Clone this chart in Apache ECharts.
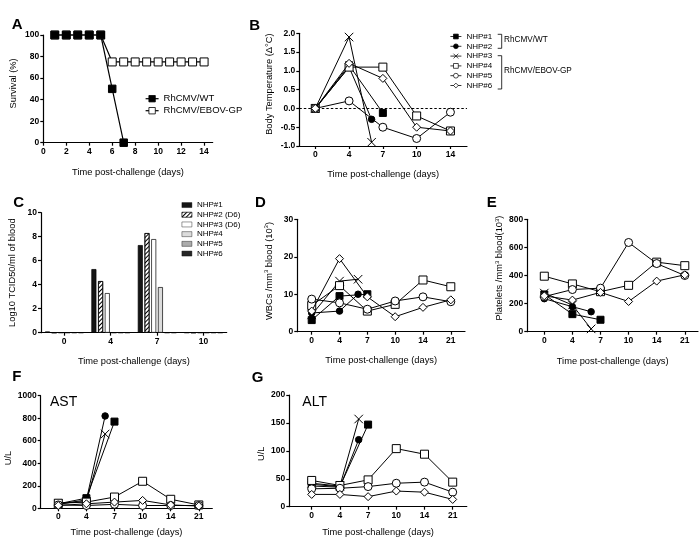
<!DOCTYPE html>
<html><head><meta charset="utf-8">
<script src="https://cdn.jsdelivr.net/npm/echarts@6/dist/echarts.min.js"></script>
<style>html,body{margin:0;padding:0;background:#fff}#c{width:700px;height:542px}</style>
</head><body><div id="c"></div>
<script>
// ---------------- DATA ----------------
// Panel A: survival
const survivalDays = [1,2,3,4,5,6,7,8,9,10,11,12,13,14];
const survivalTicks = [0,2,4,6,8,10,12,14];
const survivalWT = [100,100,100,100,100,50,0];
const survivalGP = [100,100,100,100,100,75,75,75,75,75,75,75,75,75];

// Shared NHP info
const nhpNames = ['NHP#1','NHP#2','NHP#3','NHP#4','NHP#5','NHP#6'];
const dayTicks = [0,4,7,10,14,21];
const tempTicks = [0,4,7,10,14];
const daysNHP1 = [0,4,7];
const daysNHP2 = [0,4,6];
const daysNHP3 = [0,4,6];
const daysSurvivor = [0,4,7,10,14,21];
const daysSurvivorTemp = [0,4,7,10,14];

// Panel B: body temperature change
const tempNHP1 = [0,1.15,-0.12];
const tempNHP2 = [0,1.1,-0.29];
const tempNHP3 = [0,1.9,-0.9];
const tempNHP4 = [0,1.1,1.1,-0.2,-0.6];
const tempNHP5 = [0,0.2,-0.5,-0.8,-0.1];
const tempNHP6 = [0,1.2,0.8,-0.5,-0.6];

// Panel C: viremia
const viremiaDays = ['0','4','7','10'];
const viremiaNames = ['NHP#1','NHP#2 (D6)','NHP#3 (D6)','NHP#4','NHP#5','NHP#6'];
const virNHP1 = [0.1,5.3,7.3,0];
const virNHP2 = [0,4.3,8.3,0];
const virNHP3 = [0,3.3,7.8,0];
const virNHP4 = [0,0,3.8,0];
const virNHP5 = [0,0,0,0];
const virNHP6 = [0,0,0,0];

// Panel D: WBCs
const wbcNHP1 = [3.1,9.5,10];
const wbcNHP2 = [5.0,5.5,10];
const wbcNHP3 = [4.5,13.5,14];
const wbcNHP4 = [7,12.3,5.5,7.3,13.8,12];
const wbcNHP5 = [8.7,7.7,6.0,8.2,9.3,8.0];
const wbcNHP6 = [5.5,19.5,9.3,4.0,6.5,8.5];

// Panel E: platelets
const pltNHP1 = [265,125,85];
const pltNHP2 = [235,178,142];
const pltNHP3 = [275,190,20];
const pltNHP4 = [395,340,285,330,495,470];
const pltNHP5 = [250,300,310,635,485,400];
const pltNHP6 = [255,225,280,215,360,405];

// Panel F: AST
const astNHP1 = [40,90,770];
const astNHP2 = [35,75,820];
const astNHP3 = [45,60,660];
const astNHP4 = [45,55,100,240,80,30];
const astNHP5 = [30,25,35,25,25,25];
const astNHP6 = [25,40,55,70,30,20];

// Panel G: ALT
const altNHP1 = [40,36,147];
const altNHP2 = [37,35,120];
const altNHP3 = [42,37,157];
const altNHP4 = [47,38,48,104,94,44];
const altNHP5 = [32,33,36,42,44,26];
const altNHP6 = [22,22,18,28,26,13];

// ---------------- RENDER ----------------
const FONT = '"Liberation Sans", Arial, Helvetica, sans-serif';

function dayToPos(d){
  for (let i = 0; i < dayTicks.length - 1; i++){
    if (d <= dayTicks[i+1]) return i + (d - dayTicks[i]) / (dayTicks[i+1] - dayTicks[i]);
  }
  return dayTicks.length - 1;
}

function merge(a, b){
  const out = Array.isArray(a) ? a.slice() : Object.assign({}, a);
  for (const k in b){
    if (b[k] && typeof b[k] === 'object' && !Array.isArray(b[k]) && a[k] && typeof a[k] === 'object' && !Array.isArray(a[k])) out[k] = merge(a[k], b[k]);
    else out[k] = b[k];
  }
  return out;
}

const axisBase = {
  axisLine:{show:true, onZero:false, lineStyle:{color:'#000', width:1.2}},
  axisTick:{show:true, length:3, lineStyle:{color:'#000', width:1.2}},
  splitLine:{show:false},
  axisLabel:{color:'#000', fontFamily:FONT, fontWeight:'bold', fontSize:8.5, margin:4},
  nameLocation:'middle',
  nameTextStyle:{color:'#000', fontFamily:FONT, fontSize:9.3, lineHeight:11,
    rich:{sup:{fontSize:6, lineHeight:6, verticalAlign:'top', fontFamily:FONT, color:'#000'}}}
};

const grids = [
  {left:43.3, top:35, width:169.4, height:107.7},   // A
  {left:299.3, top:33.3, width:167.7, height:112.7},// B
  {left:41, top:212.7, width:185.7, height:120},    // C
  {left:297.3, top:219.3, width:167.7, height:112.4},// D
  {left:527.3, top:219.3, width:170.7, height:112.4},// E
  {left:40.7, top:395.7, width:171.6, height:112.6}, // F
  {left:289.3, top:395, width:177.5, height:111.7}   // G
];

const xTitle = 'Time post-challenge (days)';
function idxAxis(g, min, max, ticks, gap){
  const cv = ticks.map((t,i)=>i);
  return merge(axisBase, {type:'value', gridIndex:g, min:min, max:max,
    axisLabel:{customValues:cv, formatter:v => String(ticks[Math.round(v)])},
    axisTick:{customValues:cv},
    name:xTitle, nameGap:gap});
}

const xAxes = [
  merge(axisBase, {type:'value', gridIndex:0, min:0, max:14.75,
    axisLabel:{customValues:survivalTicks}, axisTick:{customValues:survivalTicks},
    name:xTitle, nameGap:24.3}),
  idxAxis(1, -0.473, 4.49, tempTicks, 22.7),
  merge(axisBase, {type:'category', gridIndex:2, data:viremiaDays,
    axisTick:{alignWithLabel:true}, name:xTitle, nameGap:23.3}),
  idxAxis(3, -0.518, 5.51, dayTicks, 23.7),
  idxAxis(4, -0.605, 5.47, dayTicks, 24.4),
  idxAxis(5, -0.626, 5.48, dayTicks, 19),
  idxAxis(6, -0.794, 5.50, dayTicks, 20.7)
];

function yAx(g, min, max, interval, name, gap, pad, extra){
  return merge(axisBase, merge({type:'value', gridIndex:g, min:min, max:max, interval:interval,
    name:name, nameGap:gap, nameTextStyle:{padding:pad}, axisLabel:{formatter:v => String(v)}}, extra || {}));
}
const yAxes = [
  yAx(0, 0, 100, 20, 'Survival (%)', 24.4, [0,0,0,11]),
  yAx(1, -1, 2, 0.5, 'Body Temperature (Δ°C)', 24.7, [0,0,0,11], {axisLabel:{formatter:v => v.toFixed(1)}}),
  yAx(2, 0, 10, 2, 'Log10 TCID50/ml of blood', 23, [0,0,0,0]),
  yAx(3, 0, 30, 10, 'WBCs /mm{sup|3} blood (10{sup|3})', 22.7, [0,0,0,9]),
  yAx(4, 0, 800, 200, 'Platelets /mm{sup|3} blood(10{sup|3})', 19.4, [0,0,0,15]),
  yAx(5, 0, 1000, 200, 'U/L', 23.4, [0,12,0,0]),
  yAx(6, 0, 200, 50, 'U/L', 18, [0,6,0,0])
];

const nhpStyles = [
  {symbol:'rect', size:7, fill:'#000'},
  {symbol:'circle', size:6.5, fill:'#000'},
  {symbol:'path://M0,0L10,10M10,0L0,10', size:8.5, fill:'#000'},
  {symbol:'rect', size:8, fill:'#fff'},
  {symbol:'circle', size:8, fill:'#fff'},
  {symbol:'diamond', size:8, fill:'#fff'}
];

function nhpSeries(g, i, days, vals, extra){
  const st = nhpStyles[i];
  return Object.assign({
    type:'line', name:nhpNames[i], xAxisIndex:g, yAxisIndex:g,
    data: days.map((d,k) => [dayToPos(d), vals[k]]),
    symbol:st.symbol, symbolSize:st.size, showSymbol:true, clip:false,
    lineStyle:{color:'#000', width:1},
    itemStyle:{color:st.fill, borderColor:'#000', borderWidth:1},
    emphasis:{disabled:true}, silent:true, z:2+i
  }, extra || {});
}

function panelSeries(g, arrs, survDays){
  return [
    nhpSeries(g, 0, daysNHP1, arrs[0]),
    nhpSeries(g, 1, daysNHP2, arrs[1]),
    nhpSeries(g, 2, daysNHP3, arrs[2]),
    nhpSeries(g, 3, survDays, arrs[3]),
    nhpSeries(g, 4, survDays, arrs[4]),
    nhpSeries(g, 5, survDays, arrs[5])
  ];
}

const series = [];
// Panel B first so the legend picks these icons
const bSeries = panelSeries(1, [tempNHP1,tempNHP2,tempNHP3,tempNHP4,tempNHP5,tempNHP6], daysSurvivorTemp);
bSeries[0].markLine = {silent:true, symbol:['none','none'], label:{show:false},
  lineStyle:{type:[2.5,2], color:'#000', width:1}, data:[{yAxis:0}]};
series.push(...bSeries);

// Panel A
series.push({
  type:'line', name:'RhCMV/EBOV-GP', xAxisIndex:0, yAxisIndex:0,
  data: survivalDays.map((d,k)=>[d, survivalGP[k]]),
  symbol:'rect', symbolSize:8, clip:false,
  lineStyle:{color:'#000', width:1.2},
  itemStyle:{color:'#fff', borderColor:'#000', borderWidth:1}, silent:true
});
series.push({
  type:'line', name:'RhCMV/WT', xAxisIndex:0, yAxisIndex:0,
  data: survivalWT.map((v,k)=>[survivalDays[k], v]),
  symbol:'rect', symbolSize:7.5, clip:false,
  lineStyle:{color:'#000', width:1.2},
  itemStyle:{color:'#000', borderColor:'#000', borderWidth:1}, silent:true
});

// Panel C bars
const barFills = ['#151515','#fff','#fff','#dcdcdc','#acacac','#262626'];
const virArrs = [virNHP1,virNHP2,virNHP3,virNHP4,virNHP5,virNHP6];
viremiaNames.forEach((n,i)=>{
  const s = {type:'bar', name:'C:'+n, xAxisIndex:2, yAxisIndex:2, data:virArrs[i],
    barWidth:5, barGap:'34%', silent:true,
    itemStyle:{color:barFills[i], borderColor:'#000', borderWidth:0.7}};
  if (i === 1) s.itemStyle.decal = {symbol:'rect', color:'#000', dashArrayX:[1,0], dashArrayY:[0.8,1.6], rotation:-Math.PI/4, symbolSize:1};
  series.push(s);
});

// Panels D, E, F, G
series.push(...panelSeries(3, [wbcNHP1,wbcNHP2,wbcNHP3,wbcNHP4,wbcNHP5,wbcNHP6], daysSurvivor));
series.push(...panelSeries(4, [pltNHP1,pltNHP2,pltNHP3,pltNHP4,pltNHP5,pltNHP6], daysSurvivor));
series.push(...panelSeries(5, [astNHP1,astNHP2,astNHP3,astNHP4,astNHP5,astNHP6], daysSurvivor));
series.push(...panelSeries(6, [altNHP1,altNHP2,altNHP3,altNHP4,altNHP5,altNHP6], daysSurvivor));

const legendText = {color:'#000', fontFamily:FONT};
const legends = [
  {data:['RhCMV/WT','RhCMV/EBOV-GP'], left:145, top:92.7, padding:0, orient:'vertical', itemWidth:13, itemHeight:8,
    itemGap:0, selectedMode:false, itemStyle:{borderWidth:0.8}, lineStyle:{width:1.2},
    textStyle:Object.assign({fontSize:9.5, lineHeight:12}, legendText)},
  {data:nhpNames, left:450, top:31.6, padding:0, orient:'vertical', itemWidth:11, itemHeight:6, itemGap:0,
    selectedMode:false, itemStyle:{borderWidth:0.7}, lineStyle:{width:0.8},
    textStyle:Object.assign({fontSize:8, lineHeight:9.8}, legendText)},
  {data:viremiaNames.map(n=>'C:'+n), left:181.7, top:200.2, padding:0, orient:'vertical', itemWidth:10, itemHeight:5,
    itemGap:0, icon:'rect', selectedMode:false, formatter:n => n.slice(2), itemStyle:{borderWidth:0.4},
    textStyle:Object.assign({fontSize:8, lineHeight:9.7}, legendText)}
];

function letter(t, x, y){
  return {type:'text', silent:true, style:{text:t, x:x, y:y, fontSize:15, fontWeight:'bold', fontFamily:FONT, fill:'#000', verticalAlign:'middle'}};
}
function bracket(y1, y2){
  return {type:'polyline', silent:true, shape:{points:[[497.7,y1],[501.7,y1],[501.7,y2],[497.7,y2]]},
    style:{stroke:'#000', lineWidth:0.8, fill:null}};
}
function label(t, x, y, fs){
  return {type:'text', silent:true, style:{text:t, x:x, y:y, fontSize:fs, fontFamily:FONT, fill:'#000', verticalAlign:'middle'}};
}
const graphics = [
  letter('A', 11.7, 25.3), letter('B', 249.3, 26), letter('C', 13.3, 202.7),
  letter('D', 255, 203.3), letter('E', 486.7, 203.3), letter('F', 12.3, 377.3), letter('G', 251.7, 378.3),
  bracket(34.3, 48.3), bracket(55.7, 89),
  label('RhCMV/WT', 504, 40, 8.2), label('RhCMV/EBOV-GP', 504, 70.5, 8.2),
  label('AST', 50, 402, 14), label('ALT', 302.3, 402, 14)
];

const chart = echarts.init(document.getElementById('c'), null, {renderer:'canvas'});
chart.setOption({
  animation:false,
  backgroundColor:'#fff',
  textStyle:{fontFamily:FONT},
  grid:grids, xAxis:xAxes, yAxis:yAxes, series:series, legend:legends, graphic:graphics
});
</script></body></html>
